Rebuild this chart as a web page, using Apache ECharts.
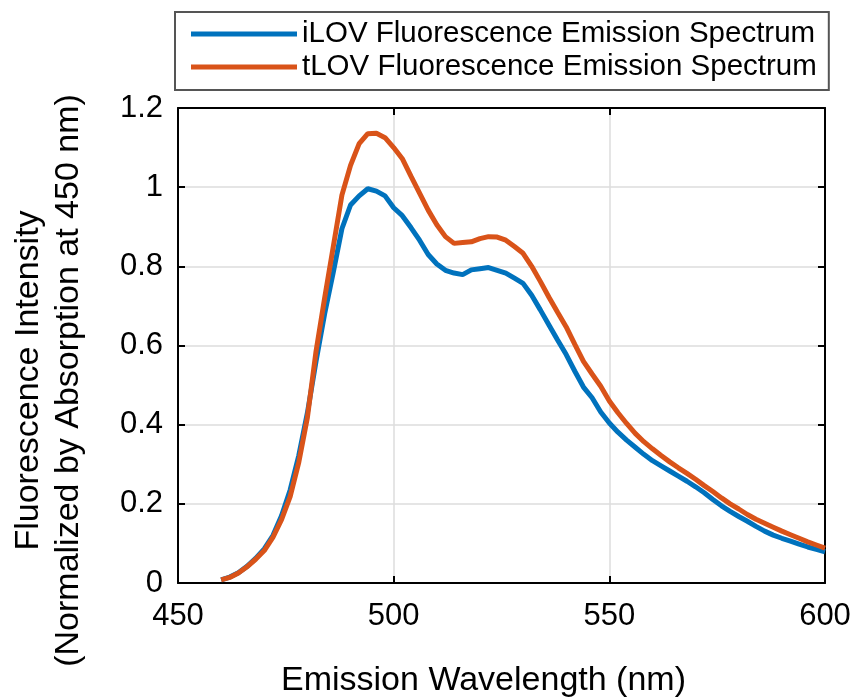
<!DOCTYPE html>
<html><head><meta charset="utf-8">
<script src="https://cdn.jsdelivr.net/npm/echarts@6/dist/echarts.min.js"></script>
<style>html,body{margin:0;padding:0;background:#fff}#c{width:856px;height:700px}</style>
</head><body><div id="c"></div>
<script>
const wavelengths = [460,462,464,466,468,470,472,474,476,478,480,482,484,486,488,490,492,494,496,498,500,502,504,506,508,510,512,514,516,518,520,522,524,526,528,530,532,534,536,538,540,542,544,546,548,550,552,554,556,558,560,562,564,566,568,570,572,574,576,578,580,582,584,586,588,590,592,594,596,598,600];
const iLOV = [0.008,0.015,0.026,0.042,0.062,0.086,0.12,0.17,0.235,0.322,0.43,0.56,0.68,0.785,0.895,0.955,0.978,0.996,0.99,0.978,0.948,0.928,0.898,0.866,0.83,0.806,0.79,0.783,0.779,0.791,0.794,0.797,0.79,0.783,0.77,0.757,0.727,0.69,0.652,0.614,0.577,0.535,0.495,0.468,0.432,0.404,0.381,0.361,0.343,0.325,0.309,0.296,0.283,0.27,0.257,0.243,0.228,0.211,0.195,0.181,0.168,0.156,0.143,0.131,0.121,0.113,0.106,0.098,0.091,0.085,0.079];
const tLOV = [0.008,0.014,0.025,0.041,0.06,0.082,0.115,0.16,0.218,0.305,0.418,0.585,0.72,0.85,0.98,1.055,1.11,1.135,1.136,1.125,1.1,1.072,1.028,0.985,0.942,0.905,0.875,0.858,0.86,0.862,0.87,0.875,0.874,0.866,0.85,0.833,0.8,0.762,0.722,0.684,0.647,0.603,0.56,0.528,0.497,0.46,0.43,0.403,0.378,0.357,0.339,0.322,0.306,0.291,0.277,0.262,0.246,0.231,0.215,0.2,0.187,0.173,0.161,0.151,0.141,0.131,0.122,0.113,0.104,0.096,0.088];
const seriesNames = ['iLOV Fluorescence Emission Spectrum','tLOV Fluorescence Emission Spectrum'];
const xRange = [450, 600, 50];
const yRange = [0, 1.2, 0.2];
const xTitle = 'Emission Wavelength (nm)';
const yTitle = 'Fluorescence Intensity\n(Normalized by Absorption at 450 nm)';

const FONT = '"Liberation Sans", Arial, Helvetica, sans-serif';
const chart = echarts.init(document.getElementById('c'), null, {renderer: 'canvas'});
const axisLine = {show: true, onZero: false, lineStyle: {color: '#000', width: 2}};
const tick = {show: true, inside: true, length: 7, lineStyle: {color: '#000', width: 2}};
const split = {show: true, lineStyle: {color: '#dcdcdc', width: 1.5}};
function pairs(xs, ys){ return xs.map((x,i)=>[x, ys[i]]); }
chart.setOption({
  backgroundColor: '#fff',
  animation: false,
  textStyle: {fontFamily: FONT},
  grid: {left: 178, right: 31, top: 108, bottom: 117, containLabel: false, outerBoundsMode: 'none'},
  legend: {
    orient: 'vertical', left: 175, top: 12,
    icon: 'rect', itemWidth: 106, itemHeight: 5, itemGap: 3,
    padding: [7, 12, 8, 16],
    borderColor: '#555', borderWidth: 2, backgroundColor: '#fff',
    textStyle: {fontFamily: FONT, fontSize: 29.5, lineHeight: 29, color: '#000'},
    data: seriesNames
  },
  xAxis: [{
    type: 'value', position: 'bottom', min: xRange[0], max: xRange[1], interval: xRange[2],
    axisLine: axisLine, axisTick: tick, splitLine: split,
    axisLabel: {fontFamily: FONT, fontSize: 31, color: '#000', margin: 18},
    name: xTitle, nameLocation: 'middle', nameGap: 81,
    nameTextStyle: {fontFamily: FONT, fontSize: 34, color: '#000', padding: [0, 36, 0, 0]}
  }, {
    type: 'value', position: 'top', min: xRange[0], max: xRange[1], interval: xRange[2],
    axisLine: axisLine, axisTick: tick, splitLine: {show: false}, axisLabel: {show: false}
  }],
  yAxis: [{
    type: 'value', position: 'left', min: yRange[0], max: yRange[1], interval: yRange[2],
    axisLine: axisLine, axisTick: tick, splitLine: split,
    axisLabel: {fontFamily: FONT, fontSize: 31, color: '#000', margin: 15},
    name: yTitle, nameLocation: 'middle', nameGap: 89,
    nameTextStyle: {fontFamily: FONT, fontSize: 34, lineHeight: 40, color: '#000', padding: [0, 70, 0, 0]}
  }, {
    type: 'value', position: 'right', min: yRange[0], max: yRange[1], interval: yRange[2],
    axisLine: axisLine, axisTick: tick, splitLine: {show: false}, axisLabel: {show: false}
  }],
  series: [{
    name: seriesNames[0], type: 'line', data: pairs(wavelengths, iLOV),
    showSymbol: false, symbol: 'none', smooth: false, color: '#0072BD',
    lineStyle: {width: 5, color: '#0072BD'}, z: 3
  }, {
    name: seriesNames[1], type: 'line', data: pairs(wavelengths, tLOV),
    showSymbol: false, symbol: 'none', smooth: false, color: '#D95319',
    lineStyle: {width: 5, color: '#D95319'}, z: 4
  }]
});
</script>
</body></html>
